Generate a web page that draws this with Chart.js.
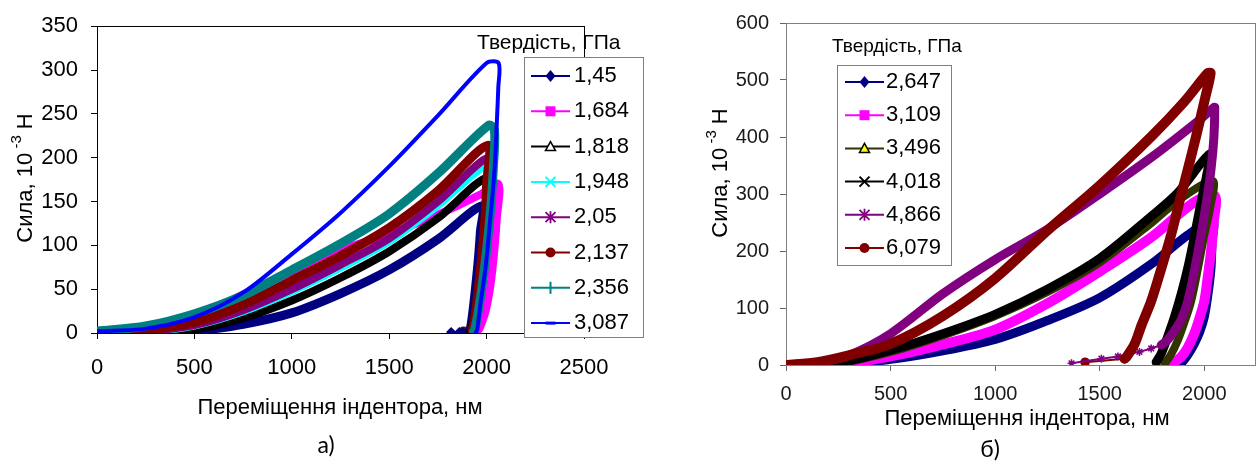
<!DOCTYPE html>
<html>
<head>
<meta charset="utf-8">
<script src="https://cdn.jsdelivr.net/npm/chart.js@4/dist/chart.umd.min.js"></script>
<style>
  html, body { margin: 0; padding: 0; background: #fff; }
  #wrap { position: relative; width: 1260px; height: 463px; overflow: hidden; }
  canvas { position: absolute; top: 0; }
  #chartA { left: 0; }
  #chartB { left: 700px; }
</style>
</head>
<body>
<div id="wrap">
  <canvas id="chartA" width="660" height="463"></canvas>
  <canvas id="chartB" width="560" height="463"></canvas>
</div>
<script>
// ---- а) : depth h (nm) and force P (10^-3 N), loading then unloading ----
const hardA = ['1,45', '1,684', '1,818', '1,948', '2,05', '2,137', '2,356', '3,087'];

const hA1 = [0, 100, 250, 400, 500, 750, 1000, 1250, 1500, 1750, 1976, 1968, 1958, 1945, 1930, 1918, 1912];
const pA1 = [0, 0, 0, 1, 2, 10, 23, 45, 72, 107, 145, 115, 85, 55, 25, 6, 2];
const hA2 = [0, 250, 500, 750, 1000, 1150, 1250, 1500, 1750, 1968, 2060, 2052, 2040, 2020, 1995, 1965, 1950];
const pA2 = [0, 3, 15, 44, 70, 87, 95, 113, 135, 158, 170, 130, 95, 55, 25, 6, 1];
const hA3 = [0, 250, 500, 750, 1000, 1250, 1500, 1750, 2000, 1992, 1980, 1965, 1945, 1925, 1915];
const pA3 = [0, 0, 4, 17, 37, 63, 93, 131, 177, 140, 100, 65, 30, 8, 2];
const hA4 = [0, 250, 500, 750, 1000, 1250, 1500, 1750, 2015, 2008, 1995, 1978, 1958, 1940, 1930];
const pA4 = [0, 1, 8, 24, 47, 74, 104, 145, 192, 150, 110, 70, 35, 10, 2];
const hA5 = [0, 250, 500, 750, 1000, 1250, 1500, 1750, 2010, 2003, 1990, 1972, 1952, 1935, 1925];
const pA5 = [0, 2, 9, 26, 50, 78, 108, 150, 200, 160, 115, 75, 38, 10, 2];
const hA6 = [0, 250, 500, 750, 1000, 1250, 1500, 1750, 2005, 2000, 1990, 1972, 1952, 1935, 1925];
const pA6 = [0, 3, 12, 32, 60, 88, 120, 162, 214, 170, 125, 80, 40, 12, 3];
const hA7 = [0, 250, 500, 750, 1000, 1250, 1500, 1750, 2010, 2040, 2035, 2020, 2000, 1978, 1955, 1940, 1932];
const pA7 = [2, 8, 22, 43, 72, 102, 136, 182, 237, 232, 190, 140, 95, 55, 22, 5, 1];
const hA8 = [0, 250, 500, 750, 1000, 1250, 1500, 1750, 2000, 2062, 2060, 2053, 2041, 2019, 1994, 1968, 1951, 1945];
const pA8 = [2, 5, 18, 46, 90, 137, 190, 248, 308, 308, 280, 243, 187, 131, 74, 33, 3, 1];
// end of unloading, sparse points near zero
const tailHA1 = [1912, 1880, 1860, 1818];
const tailPA1 = [2, 1, 1, 1];
const tailHA6 = [1925, 1900, 1880];
const tailPA6 = [3, 2, 2];

const xTicksA = [0, 500, 1000, 1500, 2000, 2500];
const yTicksA = [0, 50, 100, 150, 200, 250, 300, 350];

// ---- б) ----
const hardB = ['2,647', '3,109', '3,496', '4,018', '4,866', '6,079'];

const hB1 = [0, 250, 500, 750, 1000, 1250, 1500, 1750, 1921, 2040, 2037, 2032, 2018, 2000, 1978, 1952, 1920, 1889, 1870];
const pB1 = [0, 1, 10, 25, 45, 78, 118, 178, 228, 253, 215, 170, 125, 84, 58, 37, 17, 3, 0];
const hB2 = [0, 250, 500, 750, 1000, 1250, 1500, 1750, 1950, 2050, 2045, 2032, 2015, 2000, 1975, 1952, 1920, 1889, 1845];
const pB2 = [0, 2, 15, 36, 62, 108, 164, 225, 285, 297, 250, 199, 150, 112, 80, 55, 30, 14, 2];
const hB3 = [0, 250, 500, 750, 1000, 1250, 1500, 1750, 1873, 2040, 2030, 2000, 1970, 1937, 1905, 1873, 1840, 1810];
const pB3 = [0, 3, 23, 52, 86, 128, 180, 250, 288, 323, 280, 228, 170, 112, 75, 43, 18, 2];
const hB4 = [0, 250, 500, 750, 1000, 1250, 1500, 1750, 1873, 2025, 2010, 1984, 1955, 1921, 1890, 1857, 1825, 1794, 1770];
const pB4 = [0, 4, 26, 55, 89, 133, 187, 262, 302, 370, 330, 285, 230, 170, 125, 84, 50, 20, 5];
const hB5 = [0, 150, 300, 500, 750, 1000, 1250, 1500, 1750, 1960, 2046, 2050, 2046, 2032, 2010, 1984, 1955, 1921, 1890, 1857, 1820, 1794];
const pB5 = [0, 4, 17, 55, 125, 185, 238, 300, 365, 425, 452, 452, 400, 343, 285, 228, 170, 112, 80, 60, 42, 35];
const hB6 = [0, 150, 300, 500, 750, 1000, 1250, 1500, 1750, 1900, 2016, 2030, 2005, 1960, 1921, 1880, 1841, 1795, 1746, 1700, 1667, 1630, 1619];
const pB6 = [0, 5, 17, 37, 86, 152, 236, 315, 402, 460, 512, 512, 470, 400, 343, 285, 228, 170, 112, 70, 37, 15, 11];
const tailHB5 = [1794, 1746, 1690, 1587, 1508, 1365];
const tailPB5 = [35, 29, 23, 15, 11, 3];
const tailHB6 = [1619, 1430];
const tailPB6 = [11, 5];

const xTicksB = [0, 500, 1000, 1500, 2000];
const yTicksB = [0, 100, 200, 300, 400, 500, 600];

// ---- styles ----
const colorsA = ['#000080', '#ff00ff', '#000000', '#00ffff', '#800080', '#800000', '#008080', '#0000ff'];
const markersA = ['diamond', 'square', 'triangleOpen', 'x', 'star', 'circle', 'plus', 'dash'];
const colorsB = ['#000080', '#ff00ff', '#333300', '#000000', '#800080', '#800000'];
const markersB = ['diamond', 'square', 'triangleYellow', 'x', 'star', 'circle'];

const FONT = "'Liberation Sans', Arial, sans-serif";

function pts(h, p) { return h.map((v, i) => ({ x: v, y: p[i] })); }

function band(label, h, p, color, marker, width, order) {
  return {
    label: label, data: pts(h, p), showLine: true,
    borderColor: color, backgroundColor: color, borderWidth: width,
    borderCapStyle: 'round', borderJoinStyle: 'round', tension: 0.3,
    pointRadius: 0, order: order, inLegend: true, marker: marker
  };
}

function tail(h, p, color, style, order) {
  return {
    label: '', data: pts(h, p), showLine: true,
    borderColor: color, backgroundColor: color, borderWidth: 2,
    pointStyle: style, pointRadius: 4, pointBorderWidth: 1.5, order: order
  };
}

function drawMarker(c, type, x, y, r, color) {
  c.save();
  c.fillStyle = color; c.strokeStyle = color; c.lineWidth = 1.5;
  c.beginPath();
  if (type === 'diamond') {
    c.moveTo(x, y - r - 1); c.lineTo(x + r, y); c.lineTo(x, y + r + 1); c.lineTo(x - r, y); c.closePath(); c.fill();
  } else if (type === 'square') {
    c.fillRect(x - r, y - r, 2 * r, 2 * r);
  } else if (type === 'triangleOpen' || type === 'triangleYellow') {
    c.moveTo(x, y - r); c.lineTo(x + r, y + r * 0.8); c.lineTo(x - r, y + r * 0.8); c.closePath();
    c.fillStyle = type === 'triangleOpen' ? '#fff' : '#ffff00'; c.fill();
    c.strokeStyle = '#000'; c.stroke();
  } else if (type === 'x') {
    c.lineWidth = 2;
    c.moveTo(x - r, y - r); c.lineTo(x + r, y + r); c.moveTo(x + r, y - r); c.lineTo(x - r, y + r); c.stroke();
  } else if (type === 'star') {
    c.lineWidth = 1.8;
    c.moveTo(x - r, y - r); c.lineTo(x + r, y + r); c.moveTo(x + r, y - r); c.lineTo(x - r, y + r);
    c.moveTo(x, y - r - 1); c.lineTo(x, y + r + 1); c.stroke();
  } else if (type === 'circle') {
    c.arc(x, y, r, 0, Math.PI * 2); c.fill();
  } else if (type === 'plus') {
    c.lineWidth = 2;
    c.moveTo(x, y - r - 1); c.lineTo(x, y + r + 1); c.stroke();
  } else if (type === 'dash') {
    c.lineWidth = 3;
    c.moveTo(x - r, y); c.lineTo(x + r, y); c.stroke();
  }
  c.restore();
}

// plot area border
const framePlugin = {
  id: 'frame',
  beforeDatasetsDraw(chart, args, o) {
    const a = chart.chartArea, c = chart.ctx;
    c.save();
    c.strokeStyle = o.color; c.lineWidth = 1;
    c.strokeRect(Math.round(a.left) + 0.5, Math.round(a.top) + 0.5, Math.round(a.right - a.left), Math.round(a.bottom - a.top));
    c.restore();
  }
};

// boxed legend with its title above it
const boxLegend = {
  id: 'boxLegend',
  afterDraw(chart, args, o) {
    const c = chart.ctx;
    c.save();
    c.fillStyle = '#fff';
    c.fillRect(o.x, o.y, o.w, o.h);
    c.strokeStyle = o.border; c.lineWidth = 1;
    c.strokeRect(o.x + 0.5, o.y + 0.5, o.w, o.h);
    c.textBaseline = 'middle'; c.textAlign = 'left';
    c.fillStyle = '#000'; c.font = o.titleFont;
    c.fillText(o.title, o.titleX, o.titleY);
    const items = chart.data.datasets.filter(d => d.inLegend);
    items.forEach((d, i) => {
      const y = o.firstY + i * o.rowH;
      c.strokeStyle = d.borderColor; c.lineWidth = 2;
      c.beginPath(); c.moveTo(o.lineX0, y); c.lineTo(o.lineX1, y); c.stroke();
      drawMarker(c, d.marker, (o.lineX0 + o.lineX1) / 2, y, o.r, d.borderColor);
      c.fillStyle = '#000'; c.font = o.font;
      c.fillText(d.label, o.textX, y);
    });
    c.restore();
  }
};

// axis titles and panel caption
const captions = {
  id: 'captions',
  afterDraw(chart, args, o) {
    const c = chart.ctx;
    c.save();
    c.fillStyle = '#000'; c.textBaseline = 'middle';
    // rotated y title with superscript
    c.translate(o.yTitleX, o.yTitleY);
    c.rotate(-Math.PI / 2);
    c.font = '22px ' + FONT;
    const w1 = c.measureText('Сила, 10').width;
    const w3 = c.measureText(' Н').width;
    c.font = '15px ' + FONT;
    const w2 = c.measureText(' -3').width;
    let x = -(w1 + w2 + w3) / 2;
    c.textAlign = 'left';
    c.font = '22px ' + FONT; c.fillText('Сила, 10', x, 0); x += w1;
    c.font = '15px ' + FONT; c.fillText(' -3', x, -9); x += w2;
    c.font = '22px ' + FONT; c.fillText(' Н', x, 0);
    c.setTransform(1, 0, 0, 1, 0, 0);
    c.textAlign = 'center';
    c.font = '22px ' + FONT;
    c.fillText('Переміщення індентора, нм', o.xTitleX, o.xTitleY);
    c.font = "23px Lato, 'Open Sans', sans-serif";
    c.fillText(o.panel, o.panelX, o.panelY);
    c.restore();
  }
};

function scaleOpts(min, max, tickVals, size, pad, color, labelColor, fit) {
  return {
    type: 'linear', min: min, max: max,
    afterBuildTicks: s => { s.ticks = tickVals.map(v => ({ value: v })); },
    ticks: { padding: pad, color: labelColor, font: { family: FONT, size: size }, callback: v => String(v), maxRotation: 0 },
    grid: { drawOnChartArea: false, tickLength: 6, color: color, lineWidth: 1 },
    border: { color: color, width: 1 },
    afterFit: fit
  };
}

// ---- chart а) ----
const dsA = [
  band(hardA[0], hA1, pA1, colorsA[0], markersA[0], 9, 10),
  band(hardA[1], hA2, pA2, colorsA[1], markersA[1], 8, 9),
  band(hardA[2], hA3, pA3, colorsA[2], markersA[2], 8, 8),
  band(hardA[3], hA4, pA4, colorsA[3], markersA[3], 7, 7),
  band(hardA[4], hA5, pA5, colorsA[4], markersA[4], 8, 6),
  band(hardA[5], hA6, pA6, colorsA[5], markersA[5], 9, 5),
  band(hardA[6], hA7, pA7, colorsA[6], markersA[6], 9, 4),
  band(hardA[7], hA8, pA8, colorsA[7], markersA[7], 4, 3),
  tail(tailHA1, tailPA1, colorsA[0], 'rectRot', 11),
  tail(tailHA6, tailPA6, colorsA[5], 'circle', 11)
];

new Chart(document.getElementById('chartA'), {
  type: 'scatter',
  data: { datasets: dsA },
  plugins: [framePlugin, boxLegend, captions],
  options: {
    responsive: false, animation: false, devicePixelRatio: 1,
    layout: { padding: { left: 0, right: 76, top: 21, bottom: 0 } },
    scales: {
      x: scaleOpts(0, 2500, xTicksA, 22, 16, '#000', '#000', s => { s.height = 130; }),
      y: scaleOpts(0, 350, yTicksA, 22, 13, '#000', '#000', s => { s.width = 97; })
    },
    plugins: {
      legend: { display: false },
      tooltip: { enabled: false },
      frame: { color: '#000' },
      boxLegend: {
        title: 'Твердість, ГПа', titleX: 477, titleY: 43, titleFont: '21px ' + FONT,
        x: 524, y: 57, w: 119, h: 280, border: '#808080',
        firstY: 76, rowH: 35.3, lineX0: 531, lineX1: 570, textX: 574, r: 5, font: '22px ' + FONT
      },
      captions: { yTitleX: 26, yTitleY: 178, xTitleX: 340, xTitleY: 408, panel: 'а)', panelX: 326, panelY: 446 }
    }
  }
});

// ---- chart б) ----
const dsB = [
  band(hardB[0], hB1, pB1, colorsB[0], markersB[0], 9, 10),
  band(hardB[1], hB2, pB2, colorsB[1], markersB[1], 10, 9),
  band(hardB[2], hB3, pB3, colorsB[2], markersB[2], 8, 8),
  band(hardB[3], hB4, pB4, colorsB[3], markersB[3], 9, 7),
  band(hardB[4], hB5, pB5, colorsB[4], markersB[4], 9, 6),
  band(hardB[5], hB6, pB6, colorsB[5], markersB[5], 10, 5),
  tail(tailHB5, tailPB5, colorsB[4], 'star', 11),
  tail(tailHB6, tailPB6, colorsB[5], 'circle', 11)
];

new Chart(document.getElementById('chartB'), {
  type: 'scatter',
  data: { datasets: dsB },
  plugins: [framePlugin, boxLegend, captions],
  options: {
    responsive: false, animation: false, devicePixelRatio: 1,
    layout: { padding: { left: 0, right: 3, top: 17, bottom: 0 } },
    scales: {
      x: scaleOpts(0, 2240, xTicksB, 20, 11, '#666', '#1a1a1a', s => { s.height = 98; }),
      y: scaleOpts(0, 600, yTicksB, 20, 11, '#666', '#1a1a1a', s => { s.width = 86; })
    },
    plugins: {
      legend: { display: false },
      tooltip: { enabled: false },
      frame: { color: '#808080' },
      boxLegend: {
        title: 'Твердість, ГПа', titleX: 132, titleY: 47, titleFont: '19px ' + FONT,
        x: 137, y: 65, w: 114, h: 200, border: '#808080',
        firstY: 82, rowH: 33.2, lineX0: 145, lineX1: 184, textX: 186, r: 5, font: '22px ' + FONT
      },
      captions: { yTitleX: 21, yTitleY: 173, xTitleX: 327, xTitleY: 419, panel: 'б)', panelX: 290, panelY: 450 }
    }
  }
});
</script>
</body>
</html>
